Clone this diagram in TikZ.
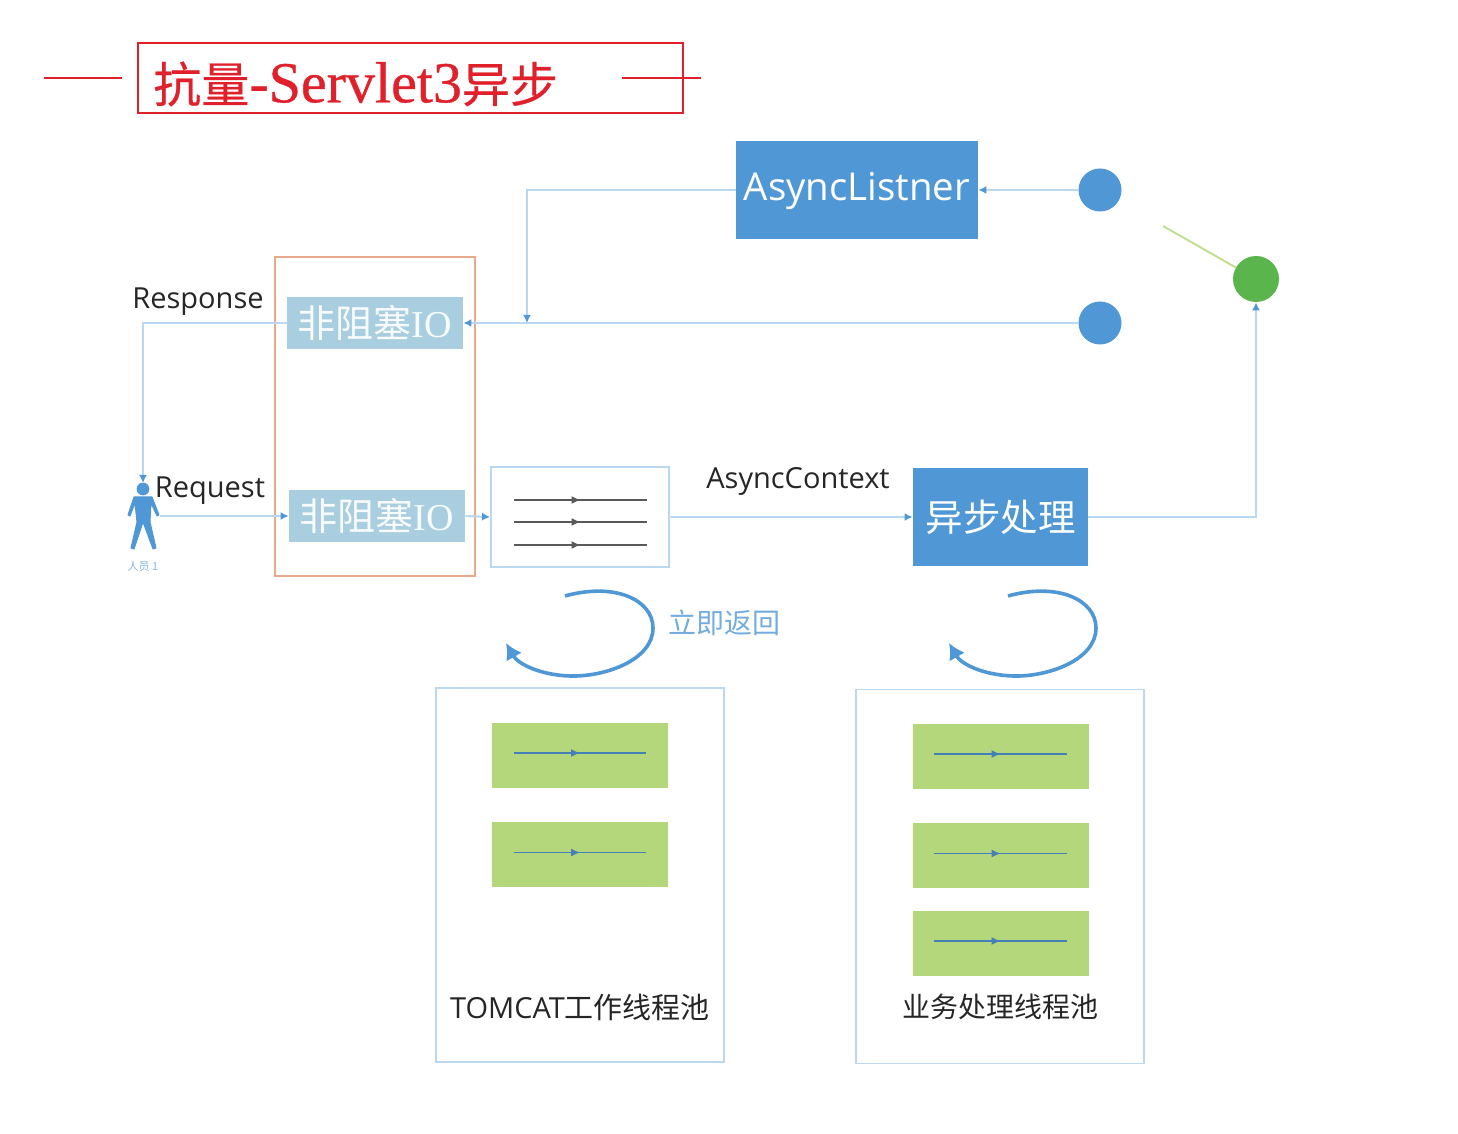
\documentclass[tikz,border=0pt]{standalone}
\usepackage{fontspec}
\setmainfont{Open Sans}
\newfontfamily\cjk{Noto Sans CJK SC}
\newfontfamily\cjktitle[FakeBold=0.5]{Noto Sans CJK SC}
\newfontfamily\serifl{Liberation Serif}
\newfontfamily\seriftitle[FakeBold=0.6]{Liberation Serif}
\usepackage{xcolor}
\usetikzlibrary{arrows.meta, calc, decorations.markings}
\definecolor{blueD}{HTML}{5097D5}
\definecolor{blueL}{HTML}{BBD8F1}
\definecolor{ioBlue}{HTML}{A9CEDF}
\definecolor{workGreen}{HTML}{B3D77A}
\definecolor{dotGreen}{HTML}{5AB64C}
\definecolor{titleRed}{HTML}{E0202A}
\definecolor{edgeOrange}{HTML}{E9A98C}

\begin{document}
\begin{tikzpicture}[
      x=0.5pt, y=-0.5pt,
      flow/.style = {draw=blueL, line width=1.1pt, -{Latex[color=blueD, length=4pt, width=4pt]}},
      redline/.style = {draw=titleRed, line width=0.6pt},
      bluebox/.style = {shape=rectangle, fill=blueD, text=white, inner sep=0pt},
      iobox/.style = {shape=rectangle, fill=ioBlue, text=white!92!ioBlue, inner sep=0pt,
        minimum width=88pt, minimum height=26pt, font=\fontsize{19}{19}\selectfont},
      poolbox/.style = {shape=rectangle, draw=blueL, line width=0.9pt, inner sep=0pt,
        minimum width=144pt, minimum height=187pt},
      workbox/.style = {shape=rectangle, fill=workGreen, inner sep=0pt,
        minimum width=88pt, minimum height=32.5pt},
      dot/.style = {shape=circle, fill=blueD, inner sep=0pt, minimum size=21.5pt},
      label/.style = {inner sep=0pt, text=black!85, font=\fontsize{14.5}{14.5}\selectfont},
      threadline/.style = {draw=#1, line width=0.6pt, decoration={markings,
        mark=at position 0.5 with {\arrow{Latex[length=4.5pt, width=4pt]}}}, postaction={decorate}},
      loopback/.style = {draw=blueD, line width=1.8pt, -{Latex[length=8pt, width=9pt]}}
    ]
    \useasboundingbox (0,0) rectangle (1458,1134);

    % title
    \node[draw=titleRed, line width=0.6pt, minimum width=272.5pt, minimum height=35pt, inner sep=0pt] (title) at (410.5,78) {};
    \node[anchor=west, inner sep=0pt, text=titleRed] (titletext) at (153,84)
      {\fontsize{24}{24}\selectfont\cjktitle 抗量{\seriftitle\fontsize{29}{29}\selectfont -Servlet3}异步};
    \coordinate (ruleA) at (44,78);
    \coordinate (ruleB) at (122,78);
    \coordinate (ruleC) at (622,78);
    \coordinate (ruleD) at (701,78);
    \draw[redline] (ruleA) -- (ruleB);
    \draw[redline] (ruleC) -- (ruleD);

    % upper row
    \node[bluebox, minimum width=121pt, minimum height=49pt] (listner) at (857,190) {};
    \node[text=white, inner sep=0pt, font=\fontsize{19.2}{20}\selectfont] (listnertext) at (857,191) {AsyncListner};
    \node[dot] (dotone) at (1100,190) {};
    \node[dot] (dottwo) at (1100,323) {};
    \node[dot, fill=dotGreen, minimum size=23pt] (dotgreen) at (1256,279) {};
    \coordinate (switchend) at (1163,226);
    \draw[draw=workGreen!80!white, line width=1pt] (dotgreen) -- (switchend);

    % nio
    \node[draw=edgeOrange, line width=0.9pt, minimum width=100pt, minimum height=159.5pt, inner sep=0pt] (nio) at (375,416.5) {};
    \node[iobox] (ioresp) at (375,323) {\cjk 非阻塞{\serifl IO}};
    \node[iobox] (ioreq) at (377,516) {\cjk 非阻塞{\serifl IO}};
    \node[label, anchor=center] (resptext) at (198,302) {Response};
    \node[label, anchor=center] (reqtext) at (210,491) {Request};

    % person
    \coordinate (person) at (160,516);
    \coordinate (personhead) at (143,483);
    \fill[blueD] (143,489) circle (3.2pt);
    \fill[blueD, draw=blueD, line width=0.5pt, line join=round]
      (134,497) -- (152,497) -- (159,515) -- (157,516) -- (151,503) -- (150,522) -- (156,548) -- (153,549)
      -- (143,522) -- (134,549) -- (131,548) -- (137,522) -- (135,503) -- (130,516) -- (128,515) -- cycle;
    \node[inner sep=0pt, text=blueD!70!white, font=\fontsize{5.5}{6}\selectfont] (persontext) at (143,566) {\cjk 人员 1};

    % queue and async
    \node[draw=blueL, line width=0.9pt, minimum width=89pt, minimum height=50pt, inner sep=0pt] (queue) at (580,517) {};
    \foreach \dy in {-17,5,28}
      \draw[threadline=black!65] ($(queue.center)+(-66,\dy)$) -- ($(queue.center)+(67,\dy)$);
    \node[bluebox, minimum width=87.5pt, minimum height=49pt, font=\fontsize{18.75}{19}\selectfont] (async) at (1000.5,517) {\cjk 异步处理};
    \node[label, anchor=center] (ctxtext) at (798,481) {AsyncContext};
    \node[inner sep=0pt, text=blueD!80!white, font=\fontsize{14}{14}\selectfont] (backtext) at (724,623) {\cjk 立即返回};

    % connectors
    \draw[flow] (person) -- (ioreq.west);
    \draw[flow] (ioreq.east) -- (queue.west);
    \draw[flow] (queue.east) -- (async.west);
    \draw[flow] (async.east) -| (dotgreen.south);
    \draw[flow] (dotone) -- (listner.east);
    \draw[flow] (dottwo) -- (ioresp.east);
    \draw[flow] (ioresp.west) -| (personhead);
    \coordinate (junction) at (527,323);
    \draw[flow] (listner.west) -| (junction);

    % return loops
    \foreach \dx in {0,443}
      \draw[loopback, shift={(\dx,0)}] (565,596) .. controls (615,582) and (653,600) .. (653,628)
        .. controls (653,660) and (605,677) .. (570,676) .. controls (540,675) and (518,664) .. (506,643);

    % pools
    \node[poolbox] (poolleft) at (580,875) {};
    \node[poolbox] (poolright) at (1000,876.5) {};
    \node[workbox] (tomone) at (580,755) {};
    \node[workbox] (tomtwo) at (580,854.5) {};
    \node[workbox] (bizone) at (1000.5,756) {};
    \node[workbox] (biztwo) at (1000.5,855.5) {};
    \node[workbox] (bizthree) at (1000.5,943) {};
    \foreach \n in {tomone,tomtwo,bizone,biztwo,bizthree}
      \draw[threadline=blueD!85!black] ($(\n.west)+(22,-2)$) -- ($(\n.east)+(-22,-2)$);
    \node[label] (tomtext) at (580,1007) {TOMCAT\cjk 工作线程池};
    \node[label, font=\fontsize{14}{14}\selectfont] (biztext) at (1000,1007) {\cjk 业务处理线程池};
\end{tikzpicture}
\end{document}
